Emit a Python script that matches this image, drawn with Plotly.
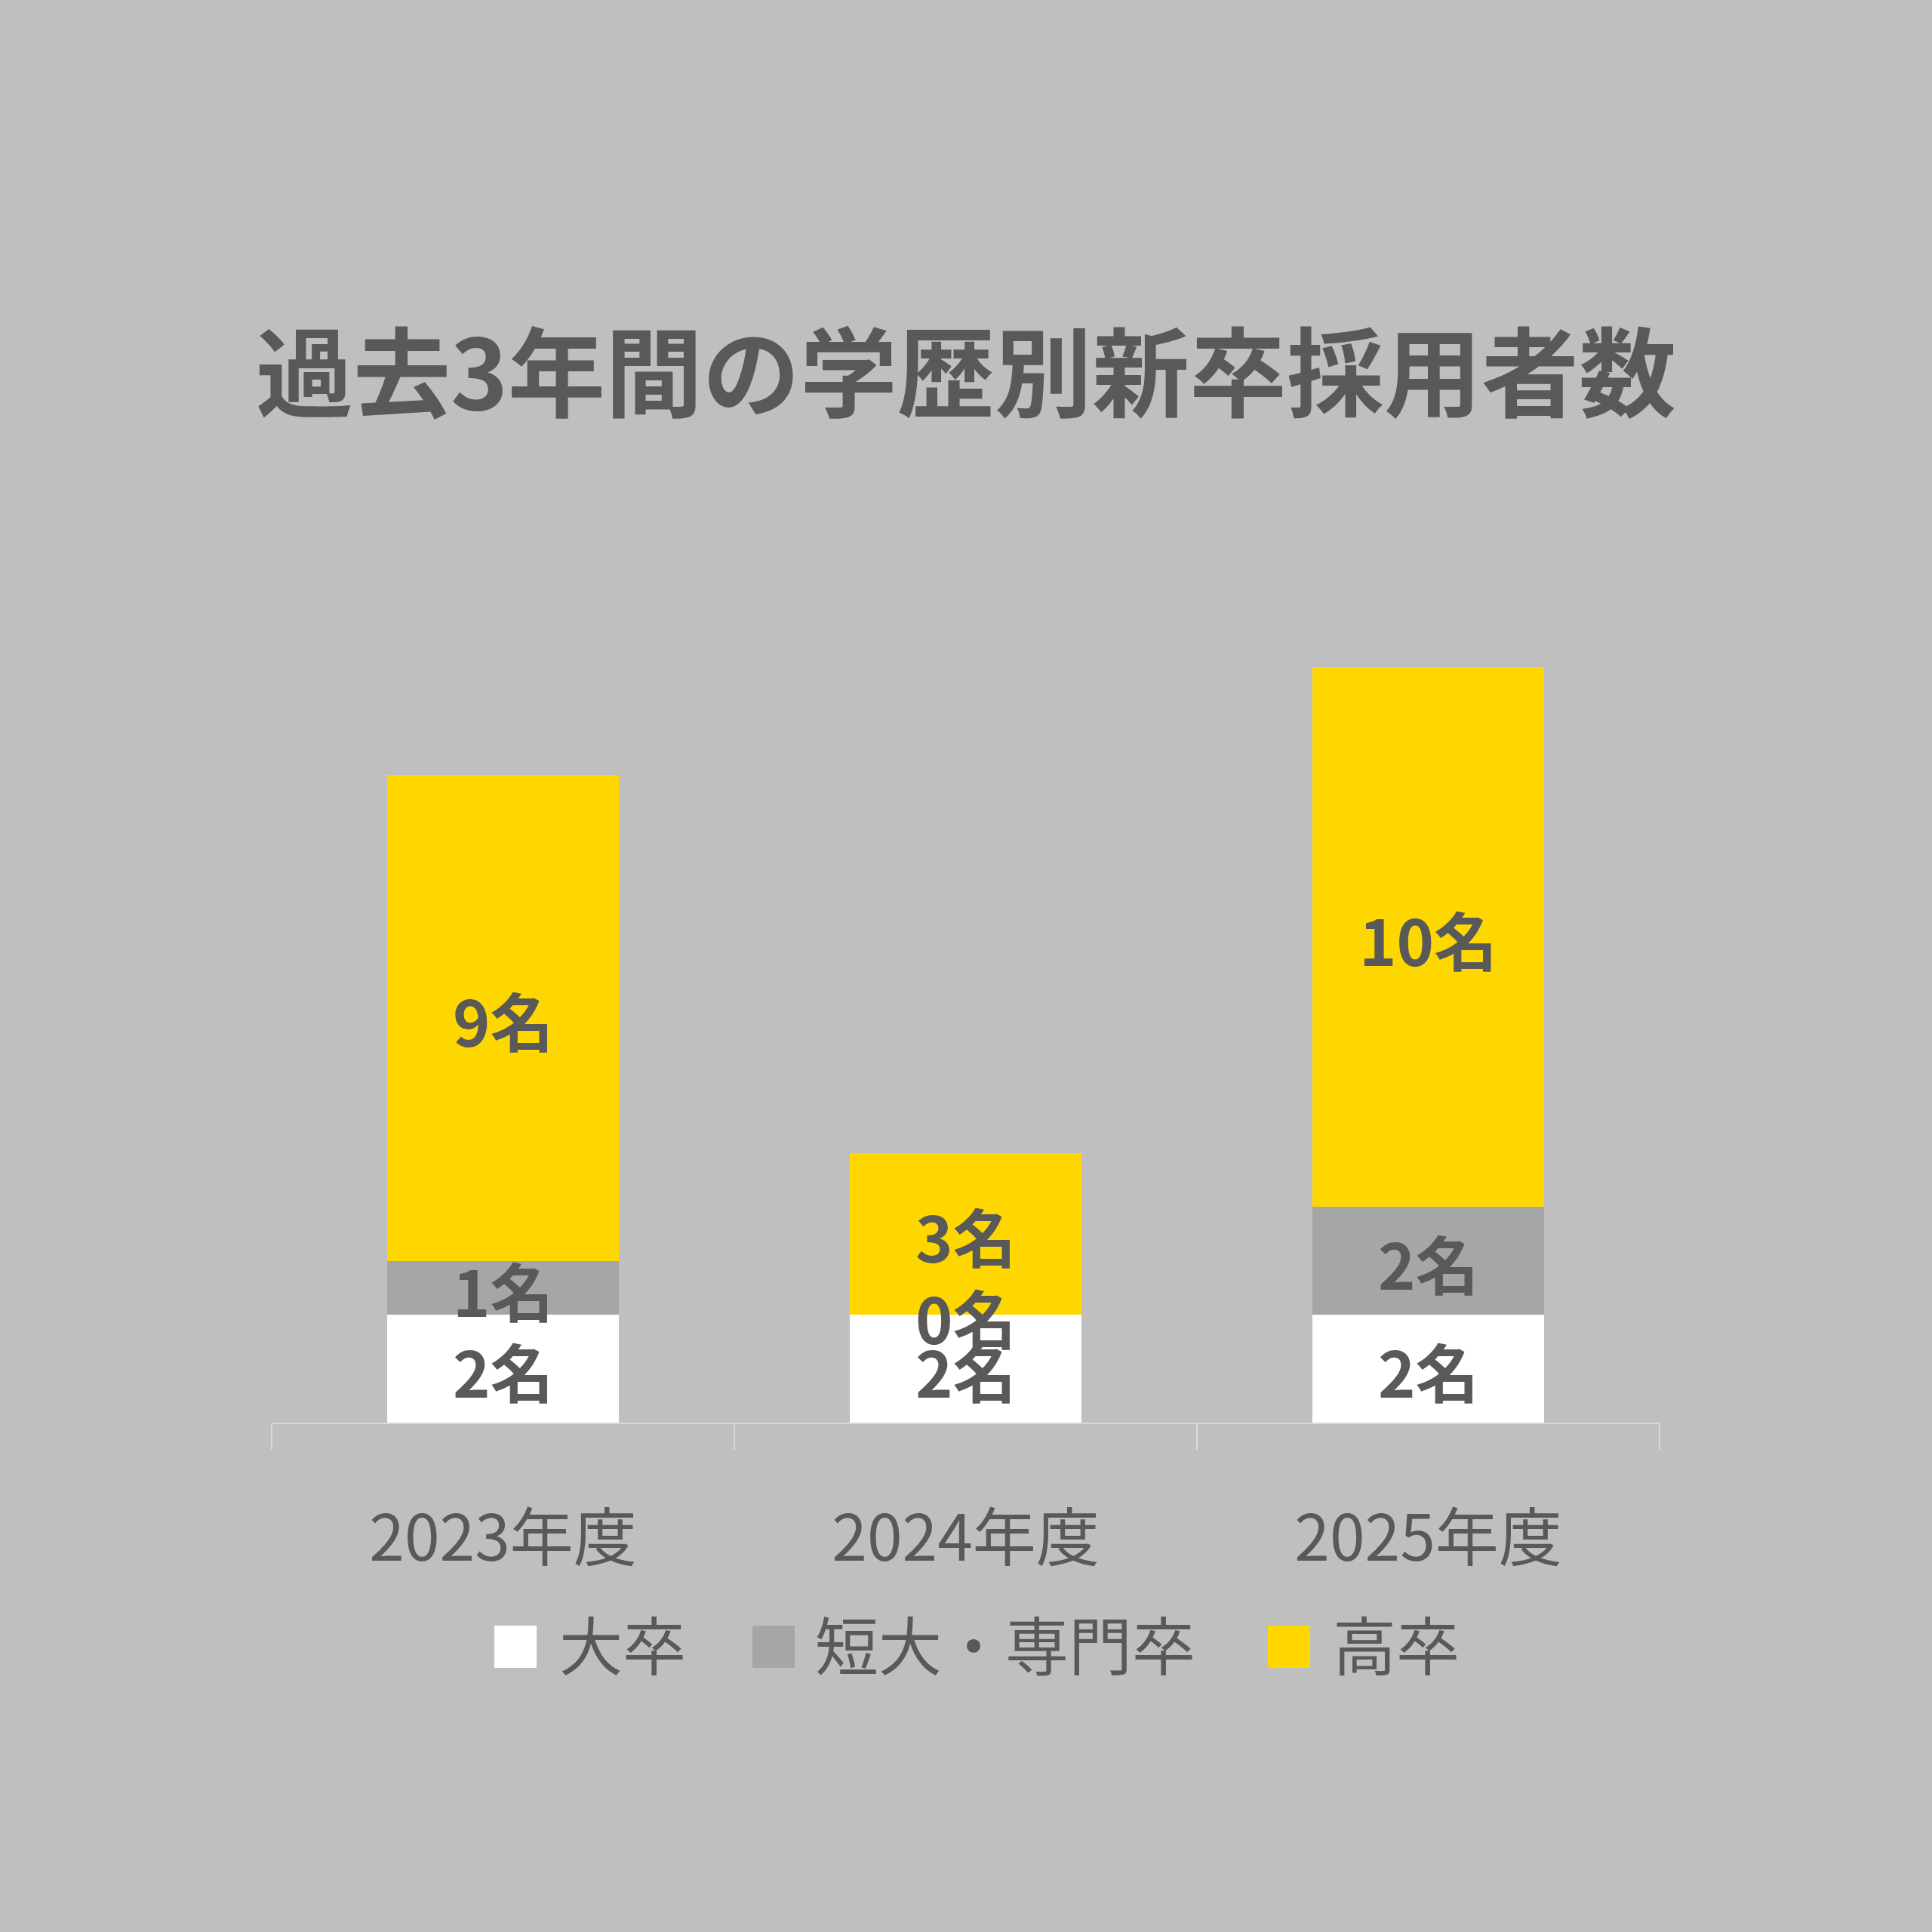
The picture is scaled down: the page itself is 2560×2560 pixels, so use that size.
import plotly.graph_objects as go

# data
years = ["2023年度", "2024年度", "2025年度"]
series_names = ["大卒", "短大・専門卒", "高卒"]
univ = [2, 2, 2]
junior = [1, 0, 2]
high = [9, 3, 10]
colors = ["#FFFFFF", "#A6A6A6", "#FFD700"]

title_text = "過去3年間の学歴別新卒採用者数"
unit = "名"

W = H = 2560
FONT = "Noto Sans CJK JP"
TXT = "#595959"
BG = "#BFBFBF"

# plot area in pixels
L, R, T, B = 360, 361, 741, 675
plot_w = W - L - R
plot_h = H - T - B


def px_x(px):
    return (px - L) / plot_w


def px_y(py):
    return (H - B - py) / plot_h


fig = go.Figure()
values = [univ, junior, high]
for name, vals, col in zip(series_names, values, colors):
    fig.add_trace(go.Bar(
        x=years, y=vals, name=name,
        marker=dict(color=col, line=dict(width=0)),
        showlegend=False, hoverinfo="skip",
    ))

annotations = []

# segment labels, centred in each stacked segment
base = [0] * len(years)
for vals in values:
    for yr, b, v in zip(years, base, vals):
        annotations.append(dict(
            text=f"{v}{unit}", x=yr, y=b + v / 2, xref="x", yref="y",
            xanchor="center", yanchor="middle", yshift=-2,
            showarrow=False,
            font=dict(family=FONT, size=84, color=TXT, weight="bold"),
        ))
    base = [b + v for b, v in zip(base, vals)]

# legend drawn by hand (square swatches sized like the reference)
sw = 56
legend_cy = 2182
swatch_left = [655, 997, 1680]
text_left = [739, 1078, 1764]
shapes = []
for name, col, sx, tx in zip(series_names, colors, swatch_left, text_left):
    shapes.append(dict(
        type="rect", xref="paper", yref="paper",
        x0=px_x(sx), x1=px_x(sx + sw),
        y0=px_y(legend_cy + sw / 2), y1=px_y(legend_cy - sw / 2),
        fillcolor=col, line=dict(width=0), layer="above",
    ))
    annotations.append(dict(
        text=name, xref="paper", yref="paper",
        x=px_x(tx), y=px_y(legend_cy - 6), xanchor="left", yanchor="middle",
        showarrow=False, font=dict(family=FONT, size=84, color=TXT),
    ))

fig.update_layout(
    width=W, height=H,
    paper_bgcolor=BG, plot_bgcolor=BG,
    margin=dict(l=L, r=R, t=T, b=B),
    barmode="stack", bargap=0.5,
    font=dict(family=FONT, color=TXT),
    title=dict(
        text=title_text, x=0.5, xanchor="center",
        y=1 - 498 / H, yanchor="middle",
        font=dict(family=FONT, size=129, color=TXT, weight="bold"),
    ),
    xaxis=dict(
        type="category", showgrid=False, zeroline=False,
        showline=True, linecolor="#D9D9D9", linewidth=2,
        ticks="outside", tickson="boundaries", ticklen=34,
        tickcolor="#D9D9D9", tickwidth=2,
        tickfont=dict(family=FONT, size=84, color=TXT),
        ticklabelstandoff=80,
    ),
    yaxis=dict(visible=False, range=[0, 16]),
    shapes=shapes,
    annotations=annotations,
    showlegend=False,
)

fig.write_html(
    "out.html",
    config={"displayModeBar": False},
    post_script="document.body.style.margin = '0';",
)
